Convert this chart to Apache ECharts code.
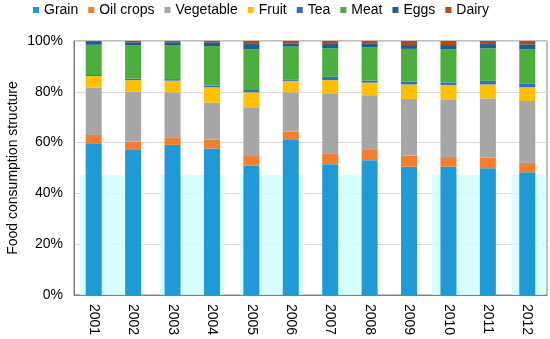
<!DOCTYPE html>
<html>
<head>
<meta charset="utf-8">
<script src="https://cdn.jsdelivr.net/npm/echarts@6/dist/echarts.min.js"></script>
<style>html,body{margin:0;padding:0;background:#fff}#c{width:550px;height:339px}</style>
</head>
<body>
<div id="c"></div>
<script>
var years = ['2001','2002','2003','2004','2005','2006','2007','2008','2009','2010','2011','2012'];
var grain     = [59.7, 57.4, 59.1, 57.7, 50.9, 61.3, 51.5, 53.1, 50.5, 50.5, 49.9, 48.3];
var oilCrops  = [3.3, 3.0, 3.0, 3.5, 3.8, 3.0, 4.3, 4.3, 4.4, 3.8, 4.3, 3.8];
var vegetable = [18.6, 19.6, 17.7, 14.5, 19.2, 15.5, 23.6, 21.2, 22.3, 22.5, 23.2, 24.3];
var fruit     = [4.6, 4.6, 4.6, 6.1, 5.9, 4.5, 5.2, 5.0, 5.7, 5.9, 5.5, 5.4];
var tea       = [0.4, 0.6, 0.6, 0.6, 0.9, 0.6, 1.3, 0.8, 1.1, 1.0, 1.4, 1.3];
var meat      = [11.9, 13.2, 13.2, 15.6, 16.0, 12.9, 11.2, 13.1, 12.9, 13.0, 12.8, 13.6];
var eggs      = [1.1, 1.1, 1.3, 1.5, 2.1, 1.3, 1.7, 1.6, 1.5, 1.7, 1.7, 2.0];
var dairy     = [0.4, 0.5, 0.5, 0.5, 1.2, 0.9, 1.2, 0.9, 1.6, 1.6, 1.2, 1.3];
var yTicks = [0, 20, 40, 60, 80, 100];
// background tint bands (in category units along x, value % along y)
var bandStarts = [0.15, 2.18, 4.21, 6.67, 9.08, 11.11];
var bandEnds   = [1.73, 3.81, 5.81, 7.66, 10.63, 11.95];
var bandTop = 47.2;

var names = ['Grain','Oil crops','Vegetable','Fruit','Tea','Meat','Eggs','Dairy'];
var values = [grain, oilCrops, vegetable, fruit, tea, meat, eggs, dairy];
var colors = ['#1F9AD6','#F47E2C','#A6A6A6','#FFC000','#2F70C6','#4CAE3F','#1D5E8E','#B8481A'];

var font = 'Liberation Sans, Arial, sans-serif';
var series = names.map(function(n, i){
  return {
    name: n, type: 'bar', stack: 'total', barWidth: 16, z: 3,
    itemStyle: {color: colors[i]},
    data: values[i]
  };
});
var bandData = bandStarts.map(function(s, i){
  return [{xAxis: s, yAxis: 0}, {xAxis: bandEnds[i], yAxis: bandTop}];
});
series.push({
  name: 'band', type: 'line', xAxisIndex: 1, yAxisIndex: 0, data: [], silent: true, z: 1,
  markArea: {silent: true, itemStyle: {color: 'rgba(205,255,255,0.8)'}, data: bandData}
});

var chart = echarts.init(document.getElementById('c'), null, {renderer: 'canvas'});
chart.setOption({
  animation: false,
  backgroundColor: '#fff',
  legend: {
    data: names, top: 0, left: 28, padding: [3, 5], icon: 'rect', itemWidth: 6, itemHeight: 6, itemGap: 10,
    textStyle: {fontFamily: font, fontSize: 14, color: '#000'}
  },
  grid: {left: 74, right: 3, top: 41, bottom: 44, containLabel: false, outerBoundsMode: 'none',
    show: true, borderColor: '#7f7f7f', borderWidth: 1, backgroundColor: 'transparent'},
  xAxis: [{
    type: 'category', data: years,
    axisLine: {lineStyle: {color: '#7f7f7f'}},
    axisTick: {show: false},
    axisLabel: {rotate: -90, margin: 9, fontFamily: font, fontSize: 14, color: '#000'}
  }, {
    type: 'value', min: 0, max: 12, show: false
  }],
  yAxis: {
    type: 'value', min: yTicks[0], max: yTicks[yTicks.length-1], interval: 20,
    name: 'Food consumption structure', nameLocation: 'middle', nameGap: 54, nameMoveOverlap: false,
    nameTextStyle: {fontFamily: font, fontSize: 14, color: '#000'},
    axisLine: {show: true, lineStyle: {color: '#7f7f7f'}},
    axisTick: {show: false},
    splitLine: {lineStyle: {color: '#d9d9d9'}},
    axisLabel: {formatter: '{value}%', fontFamily: font, fontSize: 14, color: '#000', margin: 11}
  },
  series: series
});
</script>
</body>
</html>
